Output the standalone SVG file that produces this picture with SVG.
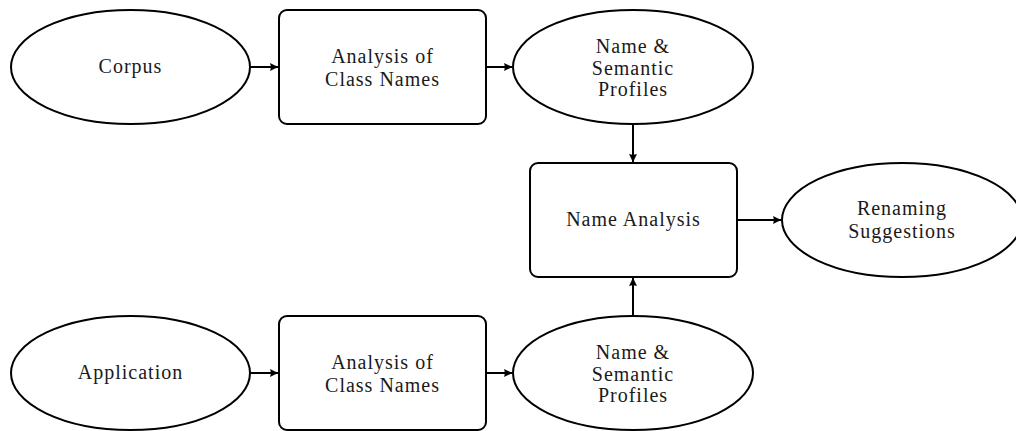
<svg xmlns="http://www.w3.org/2000/svg" width="1016" height="431" viewBox="0 0 1016 431">
<style>
.n{fill:#fff;stroke:#000;stroke-width:2}
.t{font-family:"Liberation Serif","Times New Roman",serif;font-size:20px;letter-spacing:1px;fill:#1a1a1a;text-anchor:middle}
.c{stroke:#000;stroke-width:2;fill:none;marker-end:url(#ah)}
</style>
<defs>
<marker id="ah" viewBox="-10 -5 11 10" refX="0" refY="0" markerWidth="11" markerHeight="10" markerUnits="userSpaceOnUse" orient="auto">
<path d="M1,0 C-2,-1 -5,-2.4 -8,-4 C-7,-1.5 -7,1.5 -8,4 C-5,2.4 -2,1 1,0 Z" fill="#000"/>
</marker>
</defs>
<rect width="1016" height="431" fill="#fff"/>
<g id="connectors">
<line class="c" x1="250" y1="67" x2="278" y2="67"/>
<line class="c" x1="486" y1="67" x2="512" y2="67"/>
<line class="c" x1="633" y1="124" x2="633" y2="162"/>
<line class="c" x1="737" y1="220" x2="781" y2="220"/>
<line class="c" x1="250" y1="373" x2="278" y2="373"/>
<line class="c" x1="486" y1="373" x2="512" y2="373"/>
<line class="c" x1="633" y1="316" x2="633" y2="278"/>
</g>
<g id="corpus">
<ellipse class="n" cx="130.5" cy="67" rx="119.5" ry="57"/>
<text class="t" x="130.5" y="73">Corpus</text>
</g>
<g id="analysis1">
<rect class="n" x="279" y="10" width="207" height="114" rx="8"/>
<text class="t" x="382.5" y="62.5">Analysis of</text>
<text class="t" x="382.5" y="85.5">Class Names</text>
</g>
<g id="profiles1">
<ellipse class="n" cx="633" cy="67" rx="120" ry="57"/>
<text class="t" x="633" y="52.5">Name &amp;</text>
<text class="t" x="633" y="74.5">Semantic</text>
<text class="t" x="633" y="96">Profiles</text>
</g>
<g id="nameanalysis">
<rect class="n" x="530" y="163" width="207" height="114" rx="8"/>
<text class="t" x="633.5" y="226">Name Analysis</text>
</g>
<g id="renaming">
<ellipse class="n" cx="902" cy="220" rx="120" ry="57"/>
<text class="t" x="902" y="215">Renaming</text>
<text class="t" x="902" y="237.5">Suggestions</text>
</g>
<g id="application">
<ellipse class="n" cx="130.5" cy="373" rx="119.5" ry="57"/>
<text class="t" x="130.5" y="379">Application</text>
</g>
<g id="analysis2">
<rect class="n" x="279" y="316" width="207" height="114" rx="8"/>
<text class="t" x="382.5" y="368.5">Analysis of</text>
<text class="t" x="382.5" y="391.5">Class Names</text>
</g>
<g id="profiles2">
<ellipse class="n" cx="633" cy="373" rx="120" ry="57"/>
<text class="t" x="633" y="358.5">Name &amp;</text>
<text class="t" x="633" y="380.5">Semantic</text>
<text class="t" x="633" y="402">Profiles</text>
</g>
</svg>
